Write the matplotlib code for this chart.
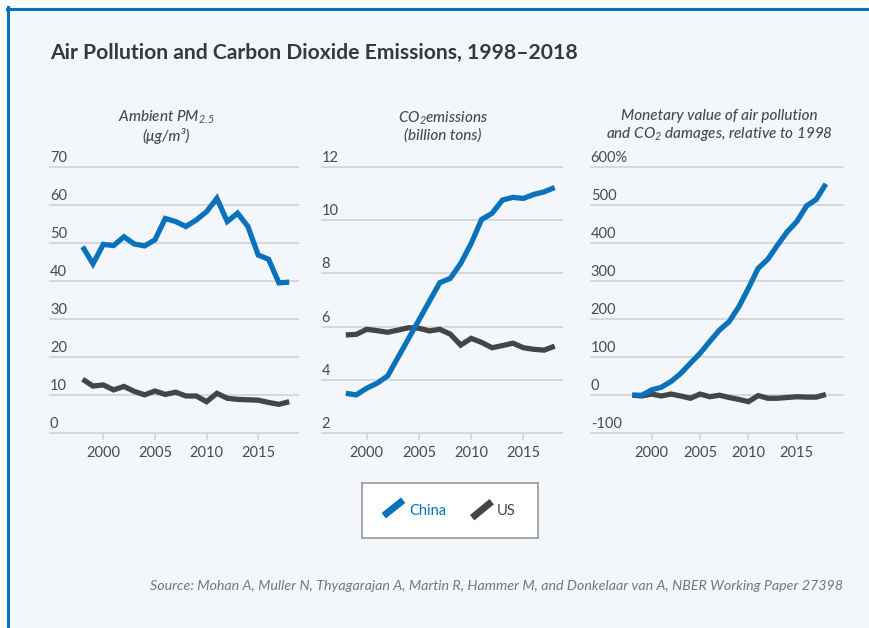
import matplotlib
matplotlib.use('Agg')
import matplotlib.pyplot as plt
import matplotlib.transforms as mtransforms
from matplotlib.patches import Rectangle
from matplotlib.lines import Line2D

W, H = 870, 628

years = list(range(1998, 2019))

# Ambient PM2.5 (ug/m3)
china_pm25 = [49.0, 44.5, 49.6, 49.3, 51.6, 49.7, 49.2, 50.8, 56.4, 55.6, 54.3,
              56.0, 58.2, 61.7, 55.6, 57.8, 54.3, 46.8, 45.7, 39.5, 39.7]
us_pm25 = [14.2, 12.4, 12.7, 11.4, 12.3, 11.0, 10.1, 11.1, 10.2, 10.8, 9.8,
           9.8, 8.3, 10.5, 9.2, 8.9, 8.8, 8.7, 8.1, 7.6, 8.3]

# CO2 emissions (billion tons)
china_co2 = [3.50, 3.44, 3.69, 3.88, 4.15, 4.85, 5.55, 6.25, 6.95, 7.65, 7.81,
             8.37, 9.12, 10.02, 10.25, 10.75, 10.85, 10.81, 10.96, 11.06, 11.22]
us_co2 = [5.69, 5.71, 5.90, 5.85, 5.79, 5.87, 5.96, 5.94, 5.84, 5.90, 5.72,
          5.31, 5.56, 5.41, 5.21, 5.29, 5.38, 5.21, 5.15, 5.12, 5.27]

# Monetary value of damages relative to 1998 (%)
china_damage = [0, 0, 14, 21, 36, 57, 84, 110, 141, 171, 193,
                232, 281, 333, 357, 394, 429, 456, 497, 514, 555]
us_damage = [0, -2, 3, -2, 3, -2, -8, 3, -4, 0, -6,
             -11, -17, -1, -8, -8, -6, -4, -5, -5, 2]

xticks = [2000, 2005, 2010, 2015]

CHINA = '#0a72ba'
US = '#454545'
GRID = '#cfd3d8'
TEXT = '#4a4a4a'
BG = '#f3f7fb'

plt.rcParams['font.family'] = ['Lato', 'DejaVu Sans']
plt.rcParams['mathtext.fontset'] = 'custom'
plt.rcParams['mathtext.rm'] = 'Lato:italic'
plt.rcParams['mathtext.it'] = 'Lato:italic'

fig = plt.figure(figsize=(W / 100, H / 100), dpi=100)
fig.patch.set_facecolor('white')

# card background with blue top/left border
fig.patches.append(Rectangle((7 / W, 0), 1, 1 - 7 / H, transform=fig.transFigure,
                             facecolor=BG, edgecolor='none', zorder=-10))
fig.lines.append(Line2D([7 / W, 1], [1 - 8.5 / H, 1 - 8.5 / H], transform=fig.transFigure,
                        color='#0a72ba', lw=2.2))
fig.lines.append(Line2D([8.5 / W, 8.5 / W], [0, 1 - 7 / H], transform=fig.transFigure,
                        color='#0a72ba', lw=2.2))

fig.text(50 / W, 1 - 53 / H, 'Air Pollution and Carbon Dioxide Emissions, 1998\u20132018',
         fontsize=15.2, fontweight='bold', color='#383838', ha='left', va='center')

panels = [
    dict(left=50, right=298, xlim=(1994.84, 2018.85), ylim=(0, 70),
         yticks=[0, 10, 20, 30, 40, 50, 60, 70],
         ylabels=['0', '10', '20', '30', '40', '50', '60', '70'],
         china=china_pm25, us=us_pm25,
         title='Ambient PM$_{2.5}$\n(\u03bcg/m\u00b3)', tx=166),
    dict(left=321.7, right=562, xlim=(1995.69, 2018.7), ylim=(2, 12),
         yticks=[2, 4, 6, 8, 10, 12],
         ylabels=['2', '4', '6', '8', '10', '12'],
         china=china_co2, us=us_co2,
         title='CO$_2$emissions\n(billion tons)', tx=443),
    dict(left=590.7, right=843.3, xlim=(1993.7, 2019.8), ylim=(-100, 600),
         yticks=[-100, 0, 100, 200, 300, 400, 500, 600],
         ylabels=['-100', '0', '100', '200', '300', '400', '500', '600%'],
         china=china_damage, us=us_damage,
         title='Monetary value of air pollution\nand CO$_2$ damages, relative to 1998', tx=719),
]

top_px, bot_px = 166.7, 433.3
for p in panels:
    ax = fig.add_axes([p['left'] / W, 1 - bot_px / H, (p['right'] - p['left']) / W,
                       (bot_px - top_px) / H])
    ax.set_facecolor('none')
    ax.set_xlim(p['xlim'])
    ax.set_ylim(p['ylim'])
    for s in ax.spines.values():
        s.set_visible(False)
    ax.set_yticks(p['yticks'])
    ax.set_yticklabels([])
    ax.tick_params(axis='y', length=0)
    ax.grid(axis='y', color=GRID, lw=1.2)
    for gl in ax.get_ygridlines():
        gl.set_clip_on(False)
    ax.set_axisbelow(True)
    ax.set_xticks(xticks)
    ax.tick_params(axis='x', length=5, width=1.1, color=GRID, labelsize=10.5,
                   labelcolor=TEXT, pad=4)

    trans = mtransforms.offset_copy(
        mtransforms.blended_transform_factory(ax.transAxes, ax.transData),
        fig=fig, y=1.5, units='points')
    for v, lab in zip(p['yticks'], p['ylabels']):
        ax.text(0, v, lab, transform=trans, ha='left', va='bottom',
                fontsize=10.5, color=TEXT)

    ax.plot(years, p['us'], color=US, lw=3.8, solid_joinstyle='miter',
            solid_capstyle='butt', clip_on=False, zorder=3)
    ax.plot(years, p['china'], color=CHINA, lw=3.8, solid_joinstyle='miter',
            solid_capstyle='butt', clip_on=False, zorder=4)

    fig.text(p['tx'] / W, 1 - 126 / H, p['title'], ha='center', va='center',
             fontsize=11, style='italic', fontweight='medium', color=TEXT,
             linespacing=1.15)

# legend box
lx0, ly0, lx1, ly1 = 361.7, 482.7, 538.3, 537.7
lax = fig.add_axes([lx0 / W, 1 - ly1 / H, (lx1 - lx0) / W, (ly1 - ly0) / H])
lax.set_xlim(0, lx1 - lx0)
lax.set_ylim(ly1 - ly0, 0)
lax.set_xticks([])
lax.set_yticks([])
lax.set_facecolor('white')
for s in lax.spines.values():
    s.set_color('#9a9a9a')
    s.set_linewidth(1.2)
lax.plot([22, 41.5], [33, 17.5], color=CHINA, lw=5, solid_capstyle='butt')
lax.text(48, 28.5, 'China', color=CHINA, fontsize=10.5, va='center', ha='left')
lax.plot([110.5, 130], [35, 19], color=US, lw=5, solid_capstyle='butt')
lax.text(135.5, 28.5, 'US', color=US, fontsize=10.5, va='center', ha='left')

fig.text(843 / W, 1 - 586 / H,
         'Source: Mohan A, Muller N, Thyagarajan A, Martin R, Hammer M, and Donkelaar van A, '
         'NBER Working Paper 27398',
         ha='right', va='center', fontsize=10.3, style='italic', color='#777777')

fig.savefig('out.png', dpi=100, facecolor=fig.get_facecolor())
